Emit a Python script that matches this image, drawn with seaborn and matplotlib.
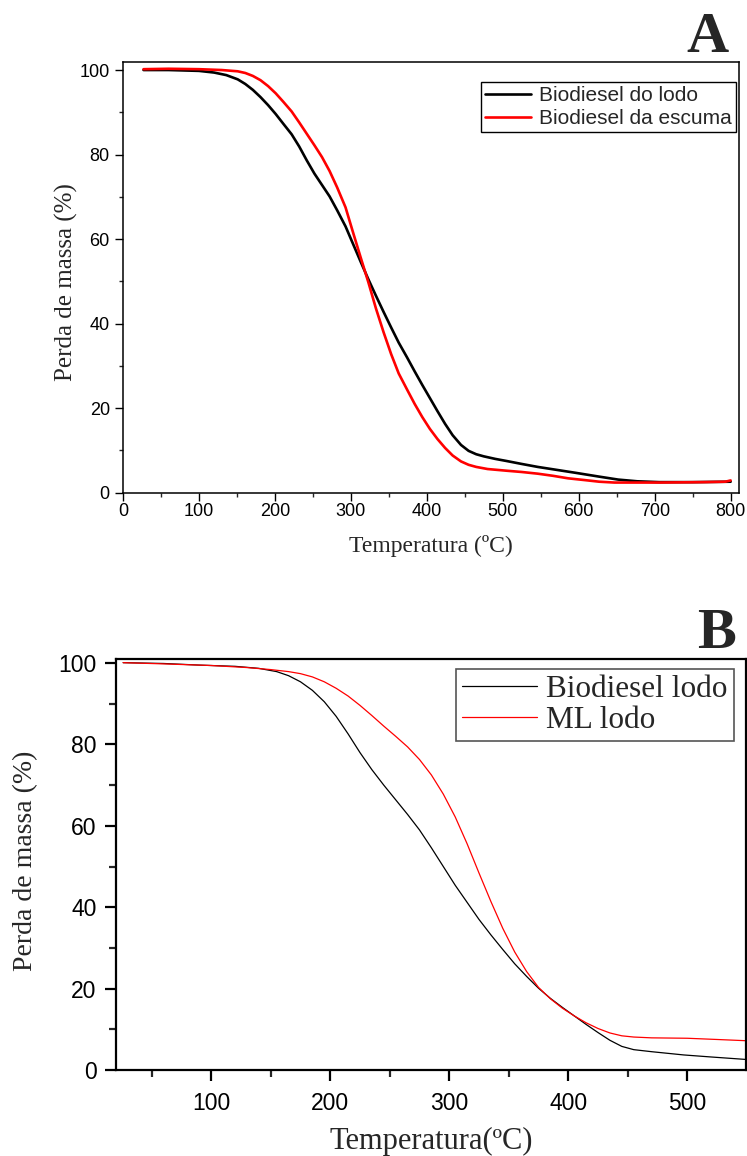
import numpy as np
import pandas as pd
import matplotlib
matplotlib.use("Agg")
import matplotlib.pyplot as plt
import seaborn as sns
from matplotlib.ticker import MultipleLocator

# ---------------- data ----------------
# Panel A
a_lodo_T = [27, 60, 100, 120, 136, 151, 161, 171, 181, 191, 201, 211, 222, 232, 242, 252,
            262, 272, 282, 293, 303, 313, 323, 333, 343, 353, 363, 374, 384, 394, 404,
            414, 424, 434, 445, 455, 465, 475, 490, 505, 525, 546, 571, 596, 627, 652,
            677, 706, 750, 800]
a_lodo_Y = [100, 100, 99.8, 99.4, 98.8, 97.8, 96.7, 95.3, 93.6, 91.7, 89.6, 87.3, 84.8,
            81.9, 78.6, 75.5, 72.8, 70.1, 66.8, 63.0, 58.8, 54.6, 50.5, 46.6, 42.8, 39.1,
            35.5, 32.0, 28.7, 25.5, 22.4, 19.3, 16.3, 13.6, 11.3, 9.9, 9.1, 8.6, 8.0, 7.5,
            6.8, 6.1, 5.4, 4.7, 3.8, 3.1, 2.7, 2.5, 2.5, 2.6]
a_escuma_T = [27, 60, 100, 130, 151, 161, 171, 181, 191, 201, 211, 222, 232, 242, 252, 262,
              272, 282, 293, 303, 313, 323, 333, 343, 353, 363, 374, 384, 394, 404, 414,
              424, 434, 445, 455, 465, 480, 505, 525, 546, 566, 586, 607, 627, 647, 706,
              765, 793, 800]
a_escuma_Y = [100.2, 100.3, 100.2, 100.0, 99.7, 99.3, 98.6, 97.6, 96.2, 94.5, 92.5, 90.2,
              87.6, 84.9, 82.2, 79.4, 76.1, 72.2, 67.5, 61.5, 55.6, 49.8, 43.6, 38.0, 32.8,
              28.2, 24.4, 21.0, 17.9, 15.1, 12.7, 10.6, 8.8, 7.4, 6.6, 6.1, 5.6, 5.2, 4.9,
              4.5, 4.0, 3.4, 3.0, 2.6, 2.4, 2.4, 2.5, 2.6, 2.9]
a_labels = ["Biodiesel do lodo", "Biodiesel da escuma"]

# Panel B
b_lodo_T = [26, 60, 90, 120, 140, 155, 165, 175, 185, 195, 205, 215, 225, 235, 245, 255,
            265, 275, 285, 295, 305, 315, 325, 335, 345, 355, 365, 375, 385, 395, 405,
            415, 425, 435, 445, 455, 470, 497, 520, 549]
b_lodo_Y = [100.1, 99.9, 99.5, 99.2, 98.7, 97.9, 96.9, 95.4, 93.3, 90.5, 86.9, 82.6, 78.0,
            73.8, 70.0, 66.4, 62.8, 59.0, 54.6, 50.0, 45.4, 41.2, 37.0, 33.2, 29.6, 26.1,
            23.0, 20.1, 17.6, 15.4, 13.3, 11.2, 9.2, 7.3, 5.8, 5.0, 4.5, 3.7, 3.2, 2.6]
b_ml_T = [26, 60, 100, 130, 150, 165, 175, 185, 195, 205, 215, 225, 235, 245, 255, 265,
          275, 285, 295, 305, 315, 325, 335, 345, 355, 365, 375, 385, 395, 405, 415, 425,
          435, 445, 455, 470, 500, 525, 549]
b_ml_Y = [100.1, 99.8, 99.4, 98.9, 98.4, 97.9, 97.4, 96.6, 95.4, 93.8, 91.9, 89.6, 87.1,
          84.5, 82.0, 79.4, 76.3, 72.5, 67.8, 62.2, 55.6, 48.4, 41.4, 34.8, 29.0, 24.2,
          20.3, 17.5, 15.2, 13.3, 11.6, 10.2, 9.1, 8.4, 8.1, 7.9, 7.8, 7.5, 7.2]
b_labels = ["Biodiesel lodo", "ML lodo"]

x_label_a = "Temperatura (ºC)"
x_label_b = "Temperatura(ºC)"
y_label = "Perda de massa (%)"

# ---------------- build tables ----------------
df_a = pd.concat([
    pd.DataFrame({"T": a_lodo_T, "Y": a_lodo_Y, "s": a_labels[0]}),
    pd.DataFrame({"T": a_escuma_T, "Y": a_escuma_Y, "s": a_labels[1]}),
])
df_b = pd.concat([
    pd.DataFrame({"T": b_lodo_T, "Y": b_lodo_Y, "s": b_labels[0]}),
    pd.DataFrame({"T": b_ml_T, "Y": b_ml_Y, "s": b_labels[1]}),
])

sns.set_style("ticks")
plt.rcParams["font.family"] = ["Liberation Sans", "DejaVu Sans"]
plt.rcParams["axes.edgecolor"] = "black"

SERIF = ["Liberation Serif", "DejaVu Serif"]
SANS = ["Liberation Sans", "DejaVu Sans"]

fig = plt.figure(figsize=(7.47, 11.56), dpi=100)
W, H = 747, 1156


def axes_px(left, top, right, bottom):
    return fig.add_axes([left / W, 1 - bottom / H, (right - left) / W, (bottom - top) / H])


# ---------------- Panel A ----------------
axA = axes_px(123, 62, 739, 492.7)
sns.lineplot(data=df_a, x="T", y="Y", hue="s", palette=["black", "red"],
             linewidth=1.9, ax=axA, sort=False, estimator=None, legend=True)
axA.set_xlim(0, 811)
axA.set_ylim(0, 101.9)
axA.xaxis.set_major_locator(MultipleLocator(100))
axA.xaxis.set_minor_locator(MultipleLocator(50))
axA.yaxis.set_major_locator(MultipleLocator(20))
axA.yaxis.set_minor_locator(MultipleLocator(10))
axA.tick_params(axis="both", which="major", direction="out", length=5.5, width=1.0,
                labelsize=13, colors="black")
axA.tick_params(axis="both", which="minor", direction="out", length=3, width=1.0)
axA.tick_params(axis="x", which="major", pad=2)
axA.tick_params(axis="y", which="major", pad=4)
for sp in axA.spines.values():
    sp.set_linewidth(1.1)
    sp.set_color("black")
axA.set_xlabel(x_label_a, family=SERIF, fontsize=17)
axA.set_ylabel(y_label, family=SERIF, fontsize=18)
axA.xaxis.set_label_coords(0.5, -0.098)
axA.yaxis.set_label_coords(-0.073, 0.49)
legA = axA.legend(loc="upper right", bbox_to_anchor=(0.995, 0.9536), frameon=True,
                  fancybox=False, edgecolor="black", framealpha=1, borderaxespad=0,
                  prop={"family": SANS, "size": 15}, handlelength=2.2,
                  handletextpad=0.4, labelspacing=0.2, borderpad=0.2)
legA.get_frame().set_linewidth(1.0)
for ln in legA.get_lines():
    ln.set_linewidth(1.9)

# ---------------- Panel B ----------------
axB = axes_px(116, 659, 745.6, 1070)
sns.lineplot(data=df_b, x="T", y="Y", hue="s", palette=["black", "red"],
             linewidth=0.9, ax=axB, sort=False, estimator=None, legend=True)
axB.set_xlim(20, 549)
axB.set_ylim(0, 101)
axB.xaxis.set_major_locator(MultipleLocator(100))
axB.xaxis.set_minor_locator(MultipleLocator(50))
axB.yaxis.set_major_locator(MultipleLocator(20))
axB.yaxis.set_minor_locator(MultipleLocator(10))
axB.tick_params(axis="both", which="major", direction="out", length=8, width=1.6,
                labelsize=16.5, colors="black")
axB.tick_params(axis="both", which="minor", direction="out", length=5, width=1.6)
axB.tick_params(axis="x", which="major", pad=8)
axB.tick_params(axis="y", which="major", pad=6)
for sp in axB.spines.values():
    sp.set_linewidth(1.6)
    sp.set_color("black")
axB.set_xlabel(x_label_b, family=SERIF, fontsize=22)
axB.set_ylabel(y_label, family=SERIF, fontsize=20)
axB.xaxis.set_label_coords(0.5, -0.139)
axB.yaxis.set_label_coords(-0.124, 0.51)
legB = axB.legend(loc="upper right", bbox_to_anchor=(0.9816, 0.9757), frameon=True,
                  fancybox=False, edgecolor="#555555", framealpha=1, borderaxespad=0,
                  prop={"family": SERIF, "size": 22.5}, handlelength=2.4,
                  handletextpad=0.3, labelspacing=0.05, borderpad=0.2)
legB.get_frame().set_linewidth(1.2)
for ln in legB.get_lines():
    ln.set_linewidth(0.9)

# ---------------- panel letters ----------------
fig.text(707 / W, 1 - 52 / H, "A", family=SERIF, fontweight="bold", fontsize=42,
         ha="center", va="baseline")
fig.text(716 / W, 1 - 648 / H, "B", family=SERIF, fontweight="bold", fontsize=42,
         ha="center", va="baseline")

fig.savefig("out.png", dpi=100, facecolor="white")
